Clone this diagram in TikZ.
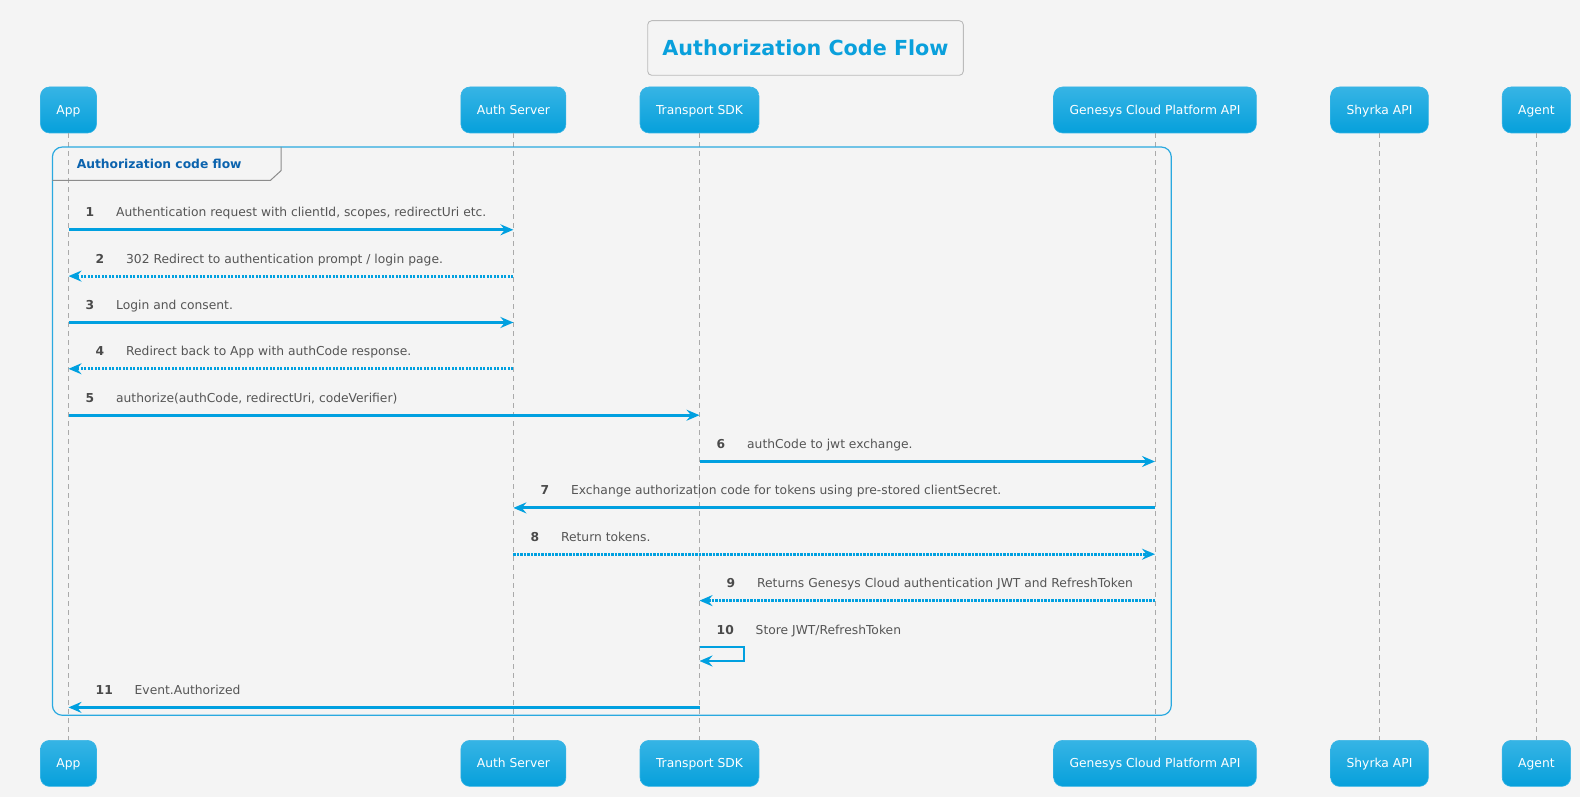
\documentclass[tikz,border=0pt]{standalone}
\usepackage{fontspec}
\setmainfont{DejaVu Sans}
\usetikzlibrary{positioning,arrows.meta,shapes}
\definecolor{bgcol}{HTML}{F4F4F4}
\definecolor{flowBlue}{HTML}{00A0E0}
\definecolor{actorTop}{HTML}{36B4E5}
\definecolor{actorBottom}{HTML}{06A0DB}
\definecolor{lifeGray}{HTML}{AAAAAA}
\definecolor{titleBlue}{HTML}{0AA0DC}
\definecolor{titleGray}{HTML}{BBBBBB}
\definecolor{groupBlue}{HTML}{2AA9E0}
\definecolor{groupText}{HTML}{0B63AE}
\definecolor{tabGray}{HTML}{8C8C8C}
\definecolor{textGray}{HTML}{555555}
\definecolor{numGray}{HTML}{4A4A4A}

\begin{document}
\begin{tikzpicture}[x=1pt, y=-1pt, font=\fontsize{12.3}{15}\selectfont]
    \tikzset{
        actor/.style = {rectangle, rounded corners=9pt, top color=actorTop, bottom color=actorBottom, draw=actorTop, line width=0.6pt,
                        minimum height=46pt, inner xsep=16pt, text=white, text height=9pt, text depth=0pt},
        lifeline/.style = {draw=lifeGray, line width=0.8pt, dash pattern=on 5pt off 4pt},
        arrow/.style = {draw=flowBlue, line width=2.9pt, -{Stealth[length=13pt, width=11pt, inset=4.5pt]}},
        reply/.style = {arrow, dash pattern=on 2.3pt off 1.2pt},
        num/.style = {inner sep=0pt, anchor=base west, font=\fontsize{12.3}{15}\selectfont\bfseries, text=numGray},
        msgtext/.style = {inner sep=0pt, anchor=base west, text=textGray}
    }
    \fill [bgcol] (0,0) rectangle (1580,797);
    \useasboundingbox (0,0) rectangle (1580,797);

    \node (title) [draw=titleGray, rounded corners=4pt, line width=0.9pt, minimum width=315.6pt, minimum height=54.6pt,
                   text=titleBlue, font=\fontsize{20.7}{24}\selectfont\bfseries] at (805.5,48) {Authorization Code Flow};

    \node (app) [actor] at (68.5,110) {App};
    \node (auth) [actor] at (513.4,110) {Auth Server};
    \node (sdk) [actor] at (699.5,110) {Transport SDK};
    \node (gcApi) [actor] at (1155,110) {Genesys Cloud Platform API};
    \node (shyrka) [actor] at (1379.5,110) {Shyrka API};
    \node (agent) [actor] at (1536.4,110) {Agent};

    \node (appEnd) [actor] at (68.5,763.4) {App};
    \node (authEnd) [actor] at (513.4,763.4) {Auth Server};
    \node (sdkEnd) [actor] at (699.5,763.4) {Transport SDK};
    \node (gcApiEnd) [actor] at (1155,763.4) {Genesys Cloud Platform API};
    \node (shyrkaEnd) [actor] at (1379.5,763.4) {Shyrka API};
    \node (agentEnd) [actor] at (1536.4,763.4) {Agent};

    \draw [lifeline] (app) -- (appEnd);
    \draw [lifeline] (auth) -- (authEnd);
    \draw [lifeline] (sdk) -- (sdkEnd);
    \draw [lifeline] (gcApi) -- (gcApiEnd);
    \draw [lifeline] (shyrka) -- (shyrkaEnd);
    \draw [lifeline] (agent) -- (agentEnd);

    \draw [groupBlue, line width=1.2pt, rounded corners=10pt] (52.4,147) rectangle (1171.3,715.3);
    \draw [tabGray, line width=1pt] (281,147) -- (281,170.7) -- (270.5,180.3) -- (52.4,180.3);
    \node (groupLabel) [anchor=base west, inner sep=0pt, text=groupText, font=\fontsize{12.3}{15}\selectfont\bfseries] at (76.6,168.3) {Authorization code flow};

    \coordinate (m1) at (0,229.8);
    \coordinate (m2) at (0,276.1);
    \coordinate (m3) at (0,322.5);
    \coordinate (m4) at (0,368.8);
    \coordinate (m5) at (0,415.2);
    \coordinate (m6) at (0,461.5);
    \coordinate (m7) at (0,507.9);
    \coordinate (m8) at (0,554.2);
    \coordinate (m9) at (0,600.6);
    \coordinate (m10) at (0,647);
    \coordinate (m11) at (0,707.4);

    \draw [arrow] (app |- m1) -- (auth |- m1);
    \draw [reply] (auth |- m2) -- (app |- m2);
    \draw [arrow] (app |- m3) -- (auth |- m3);
    \draw [reply] (auth |- m4) -- (app |- m4);
    \draw [arrow] (app |- m5) -- (sdk |- m5);
    \draw [arrow] (sdk |- m6) -- (gcApi |- m6);
    \draw [arrow] (gcApi |- m7) -- (auth |- m7);
    \draw [reply] (auth |- m8) -- (gcApi |- m8);
    \draw [reply] (gcApi |- m9) -- (sdk |- m9);
    \draw [arrow] (sdk |- m10) -- ++(44.5,0) -- ++(0,14) -- ++(-44.5,0);
    \draw [arrow] (sdk |- m11) -- (app |- m11);

    \node (n1) [num, xshift=17pt, yshift=13pt] at (app |- m1) {1};
    \node (m1Label) [msgtext, right=21.5pt of n1.base east, anchor=base west] {Authentication request with clientId, scopes, redirectUri etc.};
    \node (n2) [num, xshift=27pt, yshift=13pt] at (app |- m2) {2};
    \node (m2Label) [msgtext, right=21.5pt of n2.base east, anchor=base west] {302 Redirect to authentication prompt / login page.};
    \node (n3) [num, xshift=17pt, yshift=13pt] at (app |- m3) {3};
    \node (m3Label) [msgtext, right=21.5pt of n3.base east, anchor=base west] {Login and consent.};
    \node (n4) [num, xshift=27pt, yshift=13pt] at (app |- m4) {4};
    \node (m4Label) [msgtext, right=21.5pt of n4.base east, anchor=base west] {Redirect back to App with authCode response.};
    \node (n5) [num, xshift=17pt, yshift=13pt] at (app |- m5) {5};
    \node (m5Label) [msgtext, right=21.5pt of n5.base east, anchor=base west] {authorize(authCode, redirectUri, codeVerifier)};
    \node (n6) [num, xshift=17pt, yshift=13pt] at (sdk |- m6) {6};
    \node (m6Label) [msgtext, right=21.5pt of n6.base east, anchor=base west] {authCode to jwt exchange.};
    \node (n7) [num, xshift=27pt, yshift=13pt] at (auth |- m7) {7};
    \node (m7Label) [msgtext, right=21.5pt of n7.base east, anchor=base west] {Exchange authorization code for tokens using pre-stored clientSecret.};
    \node (n8) [num, xshift=17pt, yshift=13pt] at (auth |- m8) {8};
    \node (m8Label) [msgtext, right=21.5pt of n8.base east, anchor=base west] {Return tokens.};
    \node (n9) [num, xshift=27pt, yshift=13pt] at (sdk |- m9) {9};
    \node (m9Label) [msgtext, right=21.5pt of n9.base east, anchor=base west] {Returns Genesys Cloud authentication JWT and RefreshToken};
    \node (n10) [num, xshift=17pt, yshift=13pt] at (sdk |- m10) {10};
    \node (m10Label) [msgtext, right=21.5pt of n10.base east, anchor=base west] {Store JWT/RefreshToken};
    \node (n11) [num, xshift=27pt, yshift=13pt] at (app |- m11) {11};
    \node (m11Label) [msgtext, right=21.5pt of n11.base east, anchor=base west] {Event.Authorized};
\end{tikzpicture}
\end{document}
